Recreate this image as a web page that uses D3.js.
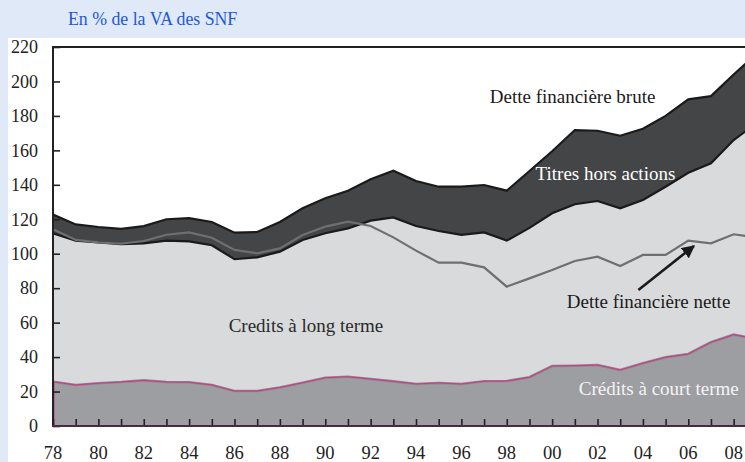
<!DOCTYPE html>
<html>
<head>
<meta charset="utf-8">
<script src="https://cdn.jsdelivr.net/npm/d3@7"></script>
<style>
  html, body { margin: 0; padding: 0; background: #dfe9f7; }
  svg { display: block; }
</style>
</head>
<body>
<div id="chart"></div>
<script>
// Years and series (% of value added of non-financial corporations)
const years = d3.range(1978, 2010);

const shortTerm = [25.7, 23.8, 24.8, 25.5, 26.5, 25.5, 25.4, 23.8, 20.3, 20.3,
  22.4, 25.1, 28.0, 28.6, 27.3, 25.9, 24.4, 25.0, 24.4, 26.0,
  26.1, 28.3, 34.8, 35.0, 35.4, 32.5, 36.4, 39.9, 41.8, 48.6, 53.0, 50.6];

// short + long term credits (top of "Credits à long terme")
const totalCredits = [111.8, 107.6, 106.6, 105.5, 106.0, 107.6, 107.2, 104.9, 96.8, 97.9,
  101.2, 108.0, 111.9, 114.7, 119.2, 121.1, 116.1, 113.2, 110.9, 112.4,
  107.6, 115.0, 123.5, 128.7, 130.6, 126.4, 131.2, 138.9, 147.0, 152.5, 166.0, 175.6];

// credits + titres hors actions
const grossDebt = [122.8, 117.0, 115.5, 114.4, 116.0, 120.0, 120.7, 118.4, 112.2, 112.6,
  118.4, 126.4, 132.2, 136.6, 143.2, 148.2, 142.2, 138.9, 138.9, 139.9,
  136.6, 148.0, 159.5, 171.8, 171.4, 168.5, 172.5, 180.0, 189.6, 191.5, 204.0, 216.0];

const netDebt = [114.2, 108.0, 106.6, 105.8, 107.4, 111.0, 112.4, 109.3, 102.2, 100.2,
  103.1, 110.9, 115.7, 118.6, 116.1, 109.5, 101.8, 94.8, 94.8, 92.1,
  80.9, 85.7, 90.5, 95.8, 98.3, 92.9, 99.3, 99.3, 107.6, 106.0, 111.3, 109.3];

const yTicks = d3.range(0, 221, 20);
const xLabelYears = d3.range(1978, 2009, 2);

const data = years.map((yr, i) => ({
  year: yr, short: shortTerm[i], credits: totalCredits[i],
  gross: grossDebt[i], net: netDebt[i]
}));

const W = 745, H = 462;
const margin = {top: 47, right: 0, bottom: 36, left: 53};
const serif = "'Liberation Serif', 'DejaVu Serif', serif";

const svg = d3.select("#chart").append("svg")
  .attr("width", W).attr("height", H)
  .style("font-family", serif);

// white panel
svg.append("rect").attr("x", 8).attr("y", 38)
  .attr("width", W - 8).attr("height", H - 38).attr("fill", "#fff");

svg.append("text").attr("x", 68).attr("y", 25)
  .attr("fill", "#2458d6").attr("font-size", 17.8)
  .text("En % de la VA des SNF");

const x = d3.scaleLinear().domain([1978, 2008.5]).range([margin.left, W - margin.right]);
const y = d3.scaleLinear().domain([0, 220]).range([H - margin.bottom, margin.top]);

svg.append("clipPath").attr("id", "clip").append("rect")
  .attr("x", x(1978)).attr("y", y(220)).attr("width", x(2008.5) - x(1978))
  .attr("height", y(0) - y(220));

const plot = svg.append("g").attr("clip-path", "url(#clip)");

const area = key => d3.area().x(d => x(d.year)).y0(y(0)).y1(d => y(d[key]));
const line = key => d3.line().x(d => x(d.year)).y(d => y(d[key]));

plot.append("path").datum(data).attr("d", area("gross")).attr("fill", "#444547");
plot.append("path").datum(data).attr("d", area("credits")).attr("fill", "#d9dadc");
plot.append("path").datum(data).attr("d", area("short")).attr("fill", "#9d9ea2");

plot.append("path").datum(data).attr("d", line("gross"))
  .attr("fill", "none").attr("stroke", "#1a1a1a").attr("stroke-width", 2.2);
plot.append("path").datum(data).attr("d", line("credits"))
  .attr("fill", "none").attr("stroke", "#1a1a1a").attr("stroke-width", 2.2);
plot.append("path").datum(data).attr("d", line("net"))
  .attr("fill", "none").attr("stroke", "#6f6f71").attr("stroke-width", 2.2);

// short-term line: grey halo with thin magenta
plot.append("path").datum(data).attr("d", line("short"))
  .attr("fill", "none").attr("stroke", "#8a8a8e").attr("stroke-width", 2.6);
plot.append("path").datum(data).attr("d", line("short"))
  .attr("fill", "none").attr("stroke", "#d8328a").attr("stroke-width", 1);
svg.append("line").attr("x1", x(1978) + 1).attr("x2", x(1978) + 1)
  .attr("y1", y(0)).attr("y2", y(shortTerm[0]))
  .attr("stroke", "#d8328a").attr("stroke-width", 1);

// axes
const yAxis = svg.append("g").attr("transform", `translate(${x(1978)},0)`)
  .call(d3.axisRight(y).tickValues(yTicks).tickSize(7).tickFormat(""));
yAxis.select(".domain").remove();
yAxis.selectAll("line").attr("stroke", "#222").attr("stroke-width", 1.6);

svg.append("g").selectAll("text").data(yTicks).join("text")
  .attr("x", 38).attr("y", d => y(d)).attr("dy", "0.35em")
  .attr("text-anchor", "end").attr("font-size", 18).attr("fill", "#222")
  .text(d => d);

const xAxis = svg.append("g").attr("transform", `translate(0,${y(0)})`)
  .call(d3.axisTop(x).tickValues(years.filter(d => d <= 2008)).tickSize(7).tickFormat(""));
xAxis.select(".domain").remove();
xAxis.selectAll("line").attr("stroke", "#222").attr("stroke-width", 1.6);

svg.append("g").selectAll("text").data(xLabelYears).join("text")
  .attr("x", d => x(d)).attr("y", 459)
  .attr("text-anchor", "middle").attr("font-size", 18.5).attr("fill", "#222")
  .text(d => String(d % 100).padStart(2, "0"));

// frame lines
svg.append("line").attr("x1", x(1978)).attr("x2", W).attr("y1", y(220)).attr("y2", y(220))
  .attr("stroke", "#222").attr("stroke-width", 2);
svg.append("line").attr("x1", x(1978)).attr("x2", x(1978)).attr("y1", y(220) - 1).attr("y2", y(0) + 1)
  .attr("stroke", "#222").attr("stroke-width", 2);
svg.append("line").attr("x1", x(1978) - 1).attr("x2", W).attr("y1", y(0)).attr("y2", y(0))
  .attr("stroke", "#4a2a40").attr("stroke-width", 2);

// annotations
const labels = [
  {text: "Dette financière brute", year: 2000.9, value: 187.5, color: "#1a1a1a"},
  {text: "Titres hors actions", year: 2002.35, value: 142.8, color: "#ffffff"},
  {text: "Credits à long terme", year: 1989.15, value: 54.6, color: "#2a2a2a"},
  {text: "Dette financière nette", year: 2004.25, value: 68.5, color: "#1a1a1a"},
  {text: "Crédits à court terme", year: 2004.7, value: 18.0, color: "#f4f4f4"}
];
svg.append("g").selectAll("text").data(labels).join("text")
  .attr("x", d => x(d.year)).attr("y", d => y(d.value))
  .attr("text-anchor", "middle").attr("font-size", 19).attr("fill", d => d.color)
  .text(d => d.text);

svg.append("defs").append("marker").attr("id", "arr")
  .attr("viewBox", "0 0 10 10").attr("refX", 9).attr("refY", 5)
  .attr("markerWidth", 5).attr("markerHeight", 5).attr("orient", "auto")
  .append("path").attr("d", "M0,0 L10,5 L0,10 Z").attr("fill", "#1a1a1a");

svg.append("line")
  .attr("x1", x(2003.8)).attr("y1", y(79))
  .attr("x2", x(2006.25)).attr("y2", y(104.5))
  .attr("stroke", "#1a1a1a").attr("stroke-width", 2.6)
  .attr("marker-end", "url(#arr)");
</script>
</body>
</html>
